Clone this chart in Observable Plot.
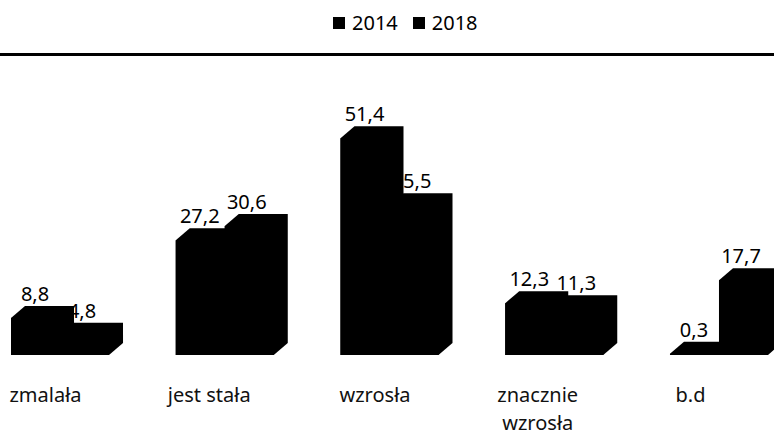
<!DOCTYPE html>
<html lang="pl">
<head>
<meta charset="utf-8">
<script src="https://cdn.jsdelivr.net/npm/d3@7"></script>
<script src="https://cdn.jsdelivr.net/npm/@observablehq/plot@0.6"></script>
<style>
  html, body { margin: 0; padding: 0; background: #fff; overflow: hidden; width: 774px; height: 430px; }
  body { font-family: "Noto Sans", sans-serif; color: #000; }
  #legend { height: 53px; border-bottom: 3px solid #000; display: flex; justify-content: flex-start; align-items: center;
            box-sizing: content-box; font-size: 20px; padding-left: 333px; }
  #legend span.item { display: inline-flex; align-items: center; margin-right: 15px; position: relative; top: -4px; }
  #legend i { width: 12px; height: 12px; background: #000; display: inline-block; margin-right: 7px; }
  svg { display: block; overflow: hidden; }
</style>
</head>
<body>
<div id="legend"></div>
<div id="chart"></div>
<script>
const categories = ["zmalała", "jest stała", "wzrosła", "znacznie wzrosła", "b.d"];
const seriesNames = ["2014", "2018"];
const values2014 = [8.8, 27.2, 51.4, 12.3, 0.3];
const values2018 = [4.8, 30.6, 35.5, 11.3, 17.7];

const rows = categories.flatMap((category, i) => [
  {category, series: seriesNames[0], value: values2014[i]},
  {category, series: seriesNames[1], value: values2018[i]}
]);

const depthX = 14, depthY = 12;

// Turns each bar into an extruded silhouette: the front face stays a Plot rect.
function extrude(index, scales, values, dims, ctx, next) {
  const g = next(index, scales, values, dims, ctx);
  d3.select(g).selectAll("rect").each(function () {
    const r = d3.select(this);
    const x = +r.attr("x"), y = +r.attr("y"), w = +r.attr("width"), h = +r.attr("height");
    const pts = [
      [x, y], [x + depthX, y - depthY], [x + w + depthX, y - depthY],
      [x + w + depthX, y + h - depthY], [x + w, y + h], [x, y + h]
    ];
    d3.select(this.parentNode).insert("polygon", () => this)
      .attr("points", pts.join(" "))
      .attr("fill", "#000");
  });
  return g;
}

const fmt = v => v.toFixed(1).replace(".", ",");
const tickText = d => d === "znacznie wzrosła" ? "znacznie\nwzrosła" : d;
const labelNudge = {"zmalała": -15, "jest stała": -16, "wzrosła": -15, "znacznie wzrosła": -17, "b.d": -29};

const legend = d3.select("#legend");
seriesNames.forEach(s => {
  const item = legend.append("span").attr("class", "item");
  item.append("i");
  item.append("span").text(s);
});

const valueLabels = (series, dx) => Plot.text(rows.filter(d => d.series === series), {
  fx: "category",
  x: "series",
  y: "value",
  text: d => fmt(d.value),
  dx,
  dy: -24,
  fontSize: 20,
  fill: "#000"
});

const plot = Plot.plot({
  width: 774,
  height: 374,
  marginLeft: 11,
  marginRight: 6,
  marginTop: 46,
  marginBottom: 75,
  style: {fontFamily: "'Noto Sans', sans-serif", fontSize: "20px", color: "#000", background: "#fff"},
  fx: {domain: categories, paddingInner: 0.405, paddingOuter: 0, round: false},
  x: {type: "band", domain: seriesNames, padding: 0, round: false, axis: null},
  y: {domain: [0, 60], axis: null},
  marks: [
    ...categories.map(c => Plot.axisFx({
      ticks: [c],
      anchor: "bottom",
      tickSize: 0,
      tickPadding: 27,
      label: null,
      dx: labelNudge[c],
      lineHeight: 1.4,
      lineAnchor: "top",
      fontSize: 20,
      tickFormat: tickText,
      fill: "#111"
    })),
    valueLabels(seriesNames[0], -1),
    valueLabels(seriesNames[1], -3),
    Plot.barY(rows, {
      fx: "category",
      x: "series",
      y: "value",
      fill: "#000",
      inset: 0,
      render: extrude
    })
  ]
});
document.getElementById("chart").append(plot);
</script>
</body>
</html>
